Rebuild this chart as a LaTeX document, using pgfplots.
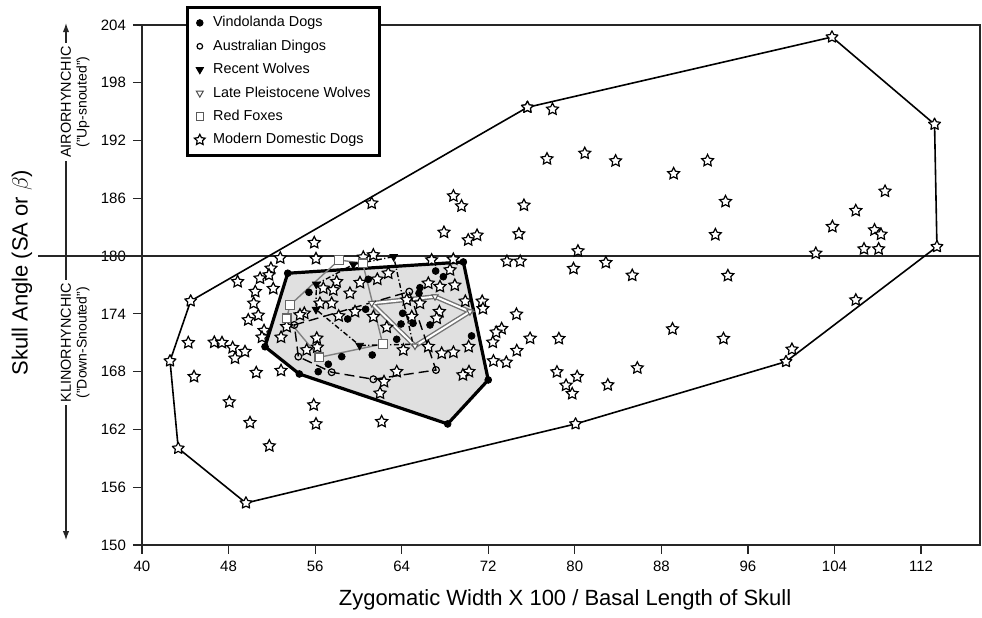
\documentclass[border=0pt]{standalone}
\usepackage{fontspec}
\setmainfont{Liberation Sans}
\usepackage{pgfplots}
\pgfplotsset{compat=1.18}
\usetikzlibrary{arrows.meta}

% outlined five-pointed star
\pgfdeclareplotmark{ostar}{%
  \pgfpathmoveto{\pgfpointpolar{90}{\pgfplotmarksize}}%
  \pgfpathlineto{\pgfpointpolar{126}{0.5\pgfplotmarksize}}%
  \pgfpathlineto{\pgfpointpolar{162}{\pgfplotmarksize}}%
  \pgfpathlineto{\pgfpointpolar{198}{0.5\pgfplotmarksize}}%
  \pgfpathlineto{\pgfpointpolar{234}{\pgfplotmarksize}}%
  \pgfpathlineto{\pgfpointpolar{270}{0.5\pgfplotmarksize}}%
  \pgfpathlineto{\pgfpointpolar{306}{\pgfplotmarksize}}%
  \pgfpathlineto{\pgfpointpolar{342}{0.5\pgfplotmarksize}}%
  \pgfpathlineto{\pgfpointpolar{18}{\pgfplotmarksize}}%
  \pgfpathlineto{\pgfpointpolar{54}{0.5\pgfplotmarksize}}%
  \pgfpathclose
  \pgfusepathqfillstroke
}

\tikzset{
  starmark/.style={mark=ostar, mark size=3.1pt, mark options={fill=white, draw=black, line width=0.6pt, solid}},
}

\begin{document}
\begin{tikzpicture}
\begin{axis}[
  name=ax,
  scale only axis,
  width=419pt, height=260pt,
  xmin=40, xmax=117.45, ymin=150, ymax=204,
  xtick={40,48,...,112}, ytick={150,156,...,204},
  tick align=outside, tick pos=left,
  major tick length=4.5pt,
  axis line style={line width=0.6pt, black!85},
  tick style={line width=0.6pt, black!85},
  ticklabel style={font=\fontsize{7.5}{8}\selectfont},
  /pgf/number format/assume math mode=true,
  clip=false,
  legend cell align=left,
  legend style={at={(0.0525,1.0365)}, anchor=north west,
    draw=black, line width=1.5pt, fill=white,
    font=\fontsize{7.2}{8}\selectfont,
    inner xsep=3.5pt, inner ysep=3.2pt,
    /tikz/row sep=2.7pt,
    /tikz/every odd column/.append style={column sep=3pt},
    nodes={inner sep=1pt, text height=5.5pt, text depth=1.5pt}},
]

% legend
\addlegendimage{legend image code/.code={\draw[black, line width=0.5pt] plot[only marks, mark=*, mark size=1.6pt] coordinates {(0pt,0pt)};}}
\addlegendentry{Vindolanda Dogs}
\addlegendimage{legend image code/.code={\draw[black, line width=0.6pt] plot[only marks, mark=o, mark size=1.4pt] coordinates {(0pt,0pt)};}}
\addlegendentry{Australian Dingos}
\addlegendimage{legend image code/.code={\draw[black, line width=0.5pt] plot[only marks, mark=triangle*, mark size=2pt, mark options={rotate=180}] coordinates {(0pt,0pt)};}}
\addlegendentry{Recent Wolves}
\addlegendimage{legend image code/.code={\draw[black!70, line width=0.5pt] plot[only marks, mark=triangle, mark size=2pt, mark options={rotate=180}] coordinates {(0pt,0pt)};}}
\addlegendentry{Late Pleistocene Wolves}
\addlegendimage{legend image code/.code={\draw[black!65, line width=0.5pt] plot[only marks, mark=square, mark size=1.9pt] coordinates {(0pt,0pt)};}}
\addlegendentry{Red Foxes}
\addlegendimage{legend image code/.code={\draw[black, line width=0.6pt] plot[only marks, mark=ostar, mark size=2.8pt, mark options={fill=white}] coordinates {(0pt,0pt)};}}
\addlegendentry{Modern Domestic Dogs}

% reference line at 180
\draw[black!85, line width=0.6pt] ([xshift=-52pt]axis cs:40,180) -- (axis cs:117.45,180);

% Vindolanda hull (shaded)
\addplot[forget plot, fill=black!12, draw=black, line width=1.6pt, line join=round]
  coordinates {(53.47,178.22) (69.70,179.39) (72.00,167.14) (68.25,162.57) (54.54,167.76) (51.37,170.59) (53.47,178.22)};

% modern domestic dogs hull
\addplot[forget plot, black, line width=0.8pt, line join=round, starmark]
  coordinates {(75.62,195.45) (103.77,202.75) (113.25,193.69) (113.47,180.98) (99.52,169.04) (80.07,162.57) (49.61,154.36) (43.35,160.04) (42.59,169.11) (44.50,175.34) (75.62,195.45)};

% modern domestic dogs
\addplot[forget plot, only marks, starmark] coordinates {
  (77.94,195.25) (77.43,190.09) (80.92,190.67) (83.77,189.88) (89.13,188.56)
  (92.27,189.91) (68.78,186.24) (69.53,185.20) (75.30,185.28) (93.93,185.66)
  (108.67,186.73) (105.97,184.72) (103.81,183.06) (107.70,182.71) (108.30,182.26)
  (106.73,180.74) (108.08,180.74) (102.27,180.29) (70.15,181.67) (70.97,182.16)
  (74.83,182.30) (80.29,180.53) (92.99,182.22) (73.73,179.46) (74.95,179.46)
  (79.88,178.70) (82.87,179.32) (85.31,178.00) (94.15,177.97) (105.97,175.44)
  (68.91,176.97) (69.88,175.31) (71.44,175.31) (71.51,174.54) (74.61,173.96)
  (73.24,172.46) (72.73,172.09) (75.87,171.46) (78.53,171.43) (89.03,172.43)
  (93.74,171.43) (72.42,171.05) (70.19,170.60) (68.78,170.01) (74.64,170.18)
  (72.48,169.11) (73.67,168.97) (100.07,170.32) (70.22,168.00) (69.66,167.66)
  (78.35,167.97) (80.22,167.48) (79.19,166.58) (79.76,165.71) (83.05,166.62)
  (85.78,168.38)
  (52.78,179.80) (56.08,179.73) (51.92,178.73) (51.74,178.04) (50.91,177.70)
  (48.84,177.34) (52.13,176.62) (50.47,176.31) (50.32,175.10) (50.75,173.85)
  (49.82,173.37) (51.28,172.26) (51.09,171.57) (52.85,171.57) (44.28,171.01)
  (46.68,171.05) (47.39,171.01) (48.38,170.49) (49.52,170.08) (48.60,169.39)
  (50.56,167.90) (52.85,168.11) (44.81,167.48) (48.07,164.85) (55.87,164.54)
  (49.98,162.70) (56.08,162.57) (51.77,160.28) (55.00,174.06) (56.15,171.47)
  (61.23,185.49) (55.92,181.39) (67.91,182.47) (61.38,180.12) (60.45,179.88)
  (66.77,179.60) (68.77,179.67)
  (57.99,177.34) (56.76,176.66) (57.68,176.48) (59.22,176.14) (62.76,178.22)
  (61.75,177.59) (60.15,177.24) (56.45,175.10) (57.53,175.10) (58.18,173.78)
  (59.69,174.23) (61.38,173.71) (62.62,172.61) (56.20,170.54) (55.22,170.25)
  (63.54,168.00) (62.37,166.96) (62.00,165.76) (64.15,170.25) (65.69,175.10)
  (66.46,177.18) (68.47,178.56) (67.54,176.83) (67.48,174.23) (67.24,173.54)
  (64.93,173.71) (66.46,170.60) (67.70,169.91) (54.60,173.89) (53.37,172.67)
  (64.47,175.44) (62.15,162.81)
};

% red foxes (grey line)
\addplot[forget plot, black!50, line width=0.7pt]
  coordinates {(58.21,179.60) (53.68,174.92) (53.37,173.54) (56.39,169.49) (62.25,170.87) (60.40,179.25) (58.21,179.60)};
% late Pleistocene wolves (double grey line)
\addplot[forget plot, black!55, line width=2.4pt, line join=miter]
  coordinates {(61.23,175.10) (67.08,175.79) (70.31,174.23) (65.23,170.67) (61.23,175.10)};
\addplot[forget plot, white, line width=1.0pt, line join=miter]
  coordinates {(61.23,175.10) (67.08,175.79) (70.31,174.23) (65.23,170.67) (61.23,175.10)};
% australian dingos (dashed)
\addplot[forget plot, black, line width=0.7pt, dash pattern=on 5pt off 2.5pt]
  coordinates {(54.08,172.85) (64.70,176.31) (67.17,168.17) (61.38,167.21) (57.53,167.94) (54.45,169.56) (54.08,172.85)};
% recent wolves (dotted)
\addplot[forget plot, black, line width=0.7pt, dash pattern=on 2.5pt off 1.2pt on 0.6pt off 1.2pt]
  coordinates {(56.11,177.07) (59.53,179.13) (63.26,179.94) (65.05,170.85) (60.12,170.72) (56.08,174.46) (56.11,177.07)};

% markers
\addplot[forget plot, only marks, mark=square*, mark size=2.2pt, mark options={fill=white, draw=black!60, line width=0.6pt}]
  coordinates {(58.21,179.60) (60.40,179.25) (53.68,174.92) (53.37,173.54) (56.39,169.49) (62.25,170.87)};
\addplot[forget plot, only marks, mark=triangle*, mark size=1.8pt, mark options={rotate=180, fill=white, draw=black!65, line width=0.5pt}]
  coordinates {(61.23,175.10) (67.08,175.79) (70.31,174.23) (65.23,170.67)};
\addplot[forget plot, only marks, mark=o, mark size=1.7pt, mark options={fill=white, draw=black, line width=0.6pt}]
  coordinates {(54.08,172.85) (64.70,176.31) (67.17,168.17) (61.38,167.21) (57.53,167.94) (54.45,169.56)};
\addplot[forget plot, only marks, mark=triangle*, mark size=2.2pt, black, mark options={rotate=180}]
  coordinates {(56.11,177.07) (59.53,179.13) (63.26,179.94) (60.12,170.72) (56.08,174.46)};
\addplot[forget plot, only marks, mark=*, mark size=1.7pt, black]
  coordinates {
  (53.47,178.22) (69.70,179.39) (72.00,167.14) (68.25,162.57) (54.54,167.76) (51.37,170.59)
  (55.43,176.24) (59.01,173.47) (60.67,174.48) (60.91,177.59) (67.14,178.45) (67.85,177.86)
  (65.69,176.72) (65.60,176.14) (64.09,174.06) (63.94,172.95) (65.05,173.02) (66.62,172.85)
  (63.54,171.36) (61.28,169.73) (58.46,169.56) (57.22,168.77) (56.29,168.00) (70.46,171.71)};

% side annotation
\draw[black!85, line width=0.6pt, {Latex[length=4.5pt,width=3.2pt]}-{Latex[length=4.5pt,width=3.2pt]}]
  ([xshift=-38pt]axis cs:40,150.5) -- ([xshift=-38pt]axis cs:40,204.2);
\node[rotate=90, fill=white, inner sep=1.5pt, font=\fontsize{7.2}{8}\selectfont]
  at ([xshift=-38pt]axis cs:40,196) {AIRORHYNCHIC};
\node[rotate=90, fill=white, inner sep=1.5pt, font=\fontsize{7.2}{8}\selectfont]
  at ([xshift=-38pt]axis cs:40,171) {KLINORHYNCHIC};
\node[rotate=90, inner sep=0pt, font=\fontsize{7}{8}\selectfont]
  at ([xshift=-29.5pt]axis cs:40,196) {("Up-snouted")};
\node[rotate=90, inner sep=0pt, font=\fontsize{7}{8}\selectfont]
  at ([xshift=-29.5pt]axis cs:40,171) {("Down-Snouted")};
\node[rotate=90, font=\fontsize{11}{13}\selectfont]
  at ([xshift=-60pt]axis cs:40,178.3) {Skull Angle (SA or $\beta$)};
\node[font=\fontsize{11}{13}\selectfont]
  at ([yshift=-27.5pt]axis cs:79.1,150) {Zygomatic Width X 100 / Basal Length of Skull};
\end{axis}
\pgfresetboundingbox
\path ([xshift=-71pt,yshift=-36.5pt]ax.south west) rectangle ([xshift=1pt,yshift=12.5pt]ax.north east);
\end{tikzpicture}
\end{document}
